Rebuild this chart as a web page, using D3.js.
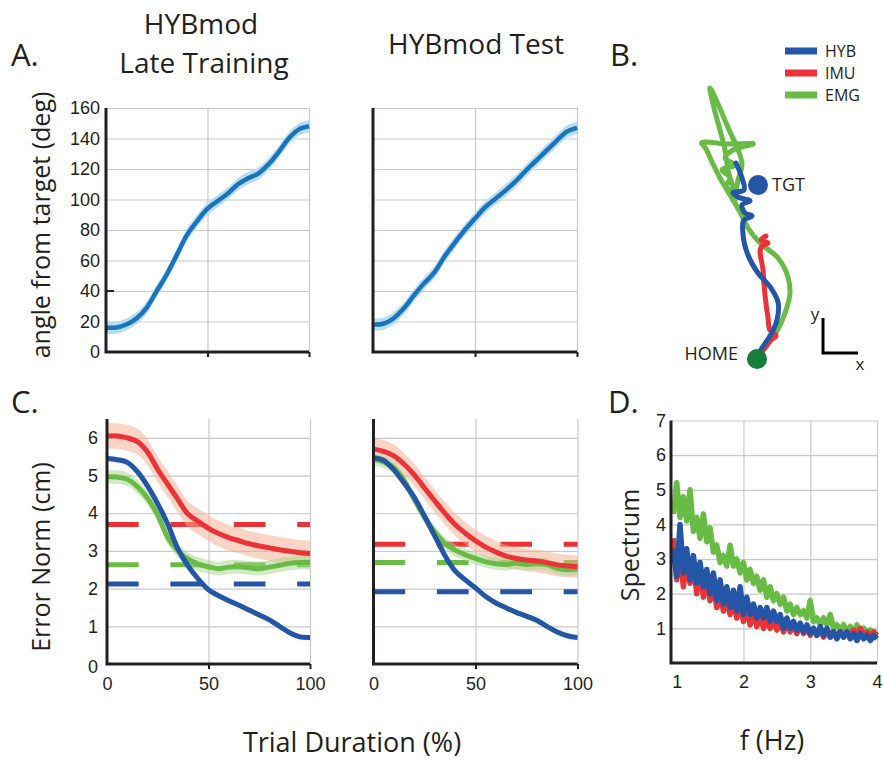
<!DOCTYPE html>
<html lang="en">
<head>
<meta charset="UTF-8">
<title>HYBmod figure</title>
<script src="https://d3js.org/d3.v7.min.js"></script>
<style>
  body { margin: 0; background: #ffffff; }
  svg { display: block; font-family: 'Open Sans', 'Noto Sans', sans-serif; color: #231f20; }
  text { fill: #231f20; }
  .grid line { stroke: #c9c9c9; stroke-width: 1.2; }
  .axis-line { stroke: #231f20; stroke-width: 3; fill: none; }
  .ticklab text { font-size: 18px; }
</style>
</head>
<body>
<svg id="fig" width="883" height="762"></svg>
<script>
// ---------- data ----------
const pct = [0,5,10,15,20,25,30,35,40,45,50,55,60,65,70,75,80,85,90,95,100];

// panel A: angle from target (deg)
const angleTrain = [16,16,18,22,29,40,51,64,77,86,94,99,104,110,114,117,123,131,140,146,148];
const angleTest  = [18,18.5,22,28.5,37,45,52,62.5,71.5,80,87.5,95,100.5,106,112,119,125.5,132,138.5,144.5,147];
const angleBand = 4;

// panel C: error norm (cm)
const methods = ["HYB", "IMU", "EMG"];
const errTrainHYB = [5.45,5.42,5.35,5.1,4.72,4.25,3.7,3.05,2.6,2.25,1.97,1.81,1.68,1.56,1.43,1.3,1.17,1.0,0.83,0.72,0.7];
const errTrainIMU = [6.05,6.05,6.0,5.9,5.62,5.16,4.76,4.36,3.97,3.78,3.6,3.46,3.35,3.27,3.19,3.13,3.08,3.03,2.99,2.95,2.93];
const errTrainEMG = [4.97,4.96,4.9,4.7,4.4,3.95,3.35,3.0,2.78,2.65,2.58,2.53,2.57,2.58,2.55,2.53,2.57,2.62,2.67,2.69,2.69];
const errTestHYB  = [5.47,5.4,5.15,4.8,4.42,3.92,3.4,2.88,2.47,2.23,2.02,1.79,1.62,1.49,1.37,1.27,1.16,1.0,0.85,0.75,0.7];
const errTestIMU  = [5.7,5.64,5.52,5.3,5.02,4.67,4.33,4.0,3.7,3.47,3.27,3.1,2.97,2.86,2.8,2.76,2.73,2.69,2.63,2.6,2.58];
const errTestEMG  = [5.43,5.36,5.2,4.87,4.37,3.9,3.5,3.2,3.02,2.9,2.8,2.71,2.66,2.64,2.68,2.64,2.66,2.64,2.54,2.5,2.52];
const errBandTrain = [0.07, 0.34, 0.18];
const errBandTest  = [0.07, 0.3, 0.16];
const baseTrain = [2.12, 3.7, 2.63];   // dashed reference levels
const baseTest  = [1.92, 3.18, 2.69];

// panel D: spectrum, sampled every 0.05 Hz from 0.95 to 4.00
const freq = d3.range(95, 401, 5).map(d => d / 100);
const specEMG = [4.3,5.2,4.2,4.8,4.1,5.0,3.8,4.2,3.6,4.3,3.5,3.9,3.2,3.4,2.9,3.1,2.8,3.4,2.8,3.0,2.6,2.9,2.4,2.7,2.3,2.5,2.1,2.4,1.9,2.2,1.8,2.0,1.7,1.9,1.5,1.7,1.4,1.6,1.4,1.5,1.3,1.8,1.2,1.3,1.1,1.3,1.1,1.4,1.0,1.1,0.95,1.1,0.9,1.05,0.9,1.1,0.9,1.0,0.85,0.95,0.85,0.9];
const specIMU = [3.6,2.4,3.3,2.2,3.0,2.3,2.9,2.0,2.8,1.9,2.5,1.8,2.3,1.6,2.1,1.5,1.9,1.4,1.8,1.3,1.7,1.2,1.6,1.1,1.5,1.05,1.4,1.0,1.3,1.0,1.3,0.95,1.2,0.9,1.15,0.9,1.1,0.85,1.1,0.85,1.0,0.8,1.0,0.8,0.95,0.75,0.95,0.75,0.9,0.75,0.9,0.75,0.9,0.8,0.95,0.8,1.0,0.8,0.9,0.8,0.9,0.8];
const specHYB = [3.3,2.5,4.0,2.6,3.3,2.4,3.1,2.3,2.9,2.2,2.7,2.0,2.6,1.8,2.4,1.7,2.2,1.6,2.1,1.5,2.2,1.4,1.9,1.4,1.7,1.3,1.6,1.3,1.6,1.2,1.5,1.2,1.4,1.0,1.3,1.0,1.2,0.95,1.15,0.9,1.1,0.85,1.0,0.8,1.05,0.8,1.0,0.75,0.9,0.7,0.9,0.75,0.9,0.7,0.85,0.65,0.85,0.7,0.8,0.65,0.8,0.7];
const specBand = [0.5, 0.15, 0.15];

// panel B: example trajectories (cm, relative to HOME)
const trajEMG = [[0,0.1],[0.8,1.1],[2.0,2.7],[2.8,4.5],[3.3,6.5],[3.1,8.1],[2.1,10.0],[0.3,11.5],[-0.9,13.0],[-1.7,14.6],[-2.7,16.3],[-3.7,18.0],[-4.5,19.6],[-5.3,21.2],[-5.5,21.4],[-2.9,21.4],[-0.4,21.4],[-1.5,21.1],[-2.4,20.8],[-3.2,20.0],[-2.2,19.3],[-3.5,18.8],[-2.7,18.0],[-3.1,17.2],[-2.4,16.6],[-2.9,18.8],[-3.2,20.8],[-3.7,22.8],[-4.3,25.0],[-4.7,27.0],[-3.9,25.4],[-3.3,24.0],[-2.7,22.6],[-2.0,21.1],[-1.5,19.3],[-1.9,17.8],[-2.2,15.8]];
const trajIMU = [[0.2,0.2],[0.8,1.0],[1.4,1.8],[1.9,2.2],[1.3,2.8],[1.1,4.0],[0.8,6.3],[0.6,8.8],[0.5,11.2],[1.1,11.5],[0.4,11.8],[0.9,12.2]];
const trajHYB = [[0,0.1],[0.5,1.0],[1.3,2.2],[2.0,3.8],[2.1,5.6],[1.4,7.0],[0.1,8.5],[-0.9,10.3],[-1.4,12.4],[-1.3,13.8],[-0.5,14.2],[-1.2,14.5],[-1.5,15.3],[-0.7,15.7],[-1.9,16.1],[-2.4,16.5],[-1.3,16.8],[-1.5,18.0],[-2.1,19.5]];
const homePos = [0, -0.1];
const targetPos = [0.1, 17.3];

const colors = { HYB: "#2356a6", IMU: "#ec3237", EMG: "#68bc45" };
const bandColors = { HYB: "#9aa3d6", IMU: "#f6a98c", EMG: "#a6d48e" };

// ---------- drawing ----------
const svg = d3.select("#fig");
const intFmt = d3.format("d");

function makePanel(cfg) {
  const g = svg.append("g");
  const x = d3.scaleLinear().domain(cfg.xDomain).range(cfg.xRange);
  const y = d3.scaleLinear().domain(cfg.yDomain).range(cfg.yRange);
  const h = cfg.yRange[0] - cfg.yRange[1];
  const w = cfg.xRange[1] - cfg.xRange[0];

  g.append("g").attr("class", "grid")
    .attr("transform", `translate(0,${cfg.yRange[0]})`)
    .call(d3.axisBottom(x).tickValues(cfg.xGrid).tickSize(-h).tickFormat(""))
    .call(a => a.select(".domain").remove());
  g.append("g").attr("class", "grid")
    .attr("transform", `translate(${cfg.xRange[0]},0)`)
    .call(d3.axisLeft(y).tickValues(cfg.yGrid).tickSize(-w).tickFormat(""))
    .call(a => a.select(".domain").remove());

  const marks = g.append("g");
  const axes = g.append("g");
  let yLab = null;

  axes.append("path").attr("class", "axis-line")
    .attr("d", `M${cfg.xRange[0]},${cfg.yRange[1]}V${cfg.yRange[0]}H${cfg.xRange[1]}`);

  // small ticks under the x axis
  if (cfg.xTicksOut) {
    axes.append("g").attr("transform", `translate(0,${cfg.yRange[0]})`)
      .call(d3.axisBottom(x).tickValues(cfg.xTicksOut).tickSize(5).tickFormat(""))
      .call(a => a.select(".domain").remove())
      .call(a => a.selectAll("line").attr("stroke", "#231f20").attr("stroke-width", 2));
  }
  if (cfg.yLabels) {
    yLab = axes.append("g").attr("class", "ticklab")
      .attr("transform", `translate(${cfg.xRange[0]},0)`)
      .call(d3.axisLeft(y).tickValues(cfg.yLabels).tickSize(0).tickPadding(cfg.yPad).tickFormat(intFmt))
      .call(a => a.select(".domain").remove());
  }
  if (cfg.xLabels) {
    axes.append("g").attr("class", "ticklab")
      .attr("transform", `translate(0,${cfg.yRange[0]})`)
      .call(d3.axisBottom(x).tickValues(cfg.xLabels).tickSize(0).tickPadding(cfg.xPad).tickFormat(intFmt))
      .call(a => a.select(".domain").remove());
  }
  return { g, x, y, marks, axes, yLab };
}

function drawBand(p, xs, ys, half, fill, op, curve) {
  const area = d3.area()
    .x((d, i) => p.x(xs[i]))
    .y0(d => p.y(d - half))
    .y1(d => p.y(d + half))
    .curve(curve);
  p.marks.append("path").attr("d", area(ys)).attr("fill", fill).attr("opacity", op);
}
function drawLine(p, xs, ys, color, width, curve) {
  const line = d3.line().x((d, i) => p.x(xs[i])).y(d => p.y(d)).curve(curve);
  p.marks.append("path").attr("d", line(ys)).attr("fill", "none")
    .attr("stroke", color).attr("stroke-width", width)
    .attr("stroke-linejoin", "round").attr("stroke-linecap", "butt");
}

// --- panel A ---
const aCfg = { xDomain: [0, 100], yDomain: [0, 160], yRange: [352, 108],
  xGrid: [50, 100], yGrid: [20, 40, 60, 80, 100, 120, 140, 160], xTicksOut: [50, 100] };
const pA1 = makePanel({ ...aCfg, xRange: [106, 309], yLabels: [0,20,40,60,80,100,120,140,160], yPad: 6 });
const pA2 = makePanel({ ...aCfg, xRange: [373, 577] });
// odd little tick at 40 on the left panel
pA1.axes.append("line").attr("x1", 106).attr("x2", 114)
  .attr("y1", pA1.y(40)).attr("y2", pA1.y(40)).attr("stroke", "#231f20").attr("stroke-width", 2);

[[pA1, angleTrain], [pA2, angleTest]].forEach(([p, ys]) => {
  drawBand(p, pct, ys, angleBand, "#b3dcf2", 0.95, d3.curveCatmullRom);
  drawLine(p, pct, ys, "#1b74bb", 4.5, d3.curveCatmullRom);
});

// --- panel C ---
const cCfg = { xDomain: [0, 100], yDomain: [0, 6.5], yRange: [664, 419],
  xGrid: [50, 100], yGrid: [1, 2, 3, 4, 5, 6], xTicksOut: [50, 100], xLabels: [0, 50, 100], xPad: 13 };
const pC1 = makePanel({ ...cCfg, xRange: [107, 310], yLabels: [0, 1, 2, 3, 4, 5, 6], yPad: 9 });
const pC2 = makePanel({ ...cCfg, xRange: [373.5, 577.5] });
// the y "0" sits a little low, next to the x "0"
pC1.yLab.selectAll(".tick text").filter(d => d === 0).attr("dy", "0.45em");

function drawErr(p, series, bands, bases) {
  methods.forEach((m, i) => {
    p.marks.append("line")
      .attr("x1", p.x(0)).attr("x2", p.x(100))
      .attr("y1", p.y(bases[i])).attr("y2", p.y(bases[i]))
      .attr("stroke", colors[m]).attr("stroke-width", 5)
      .attr("stroke-dasharray", "31.7,31.7");
  });
  methods.forEach((m, i) => drawBand(p, pct, series[i], bands[i], bandColors[m], 0.5, d3.curveCatmullRom));
  // draw order: EMG, IMU, HYB on top
  [2, 1, 0].forEach(i => drawLine(p, pct, series[i], colors[methods[i]], 5, d3.curveCatmullRom));
}
drawErr(pC1, [errTrainHYB, errTrainIMU, errTrainEMG], errBandTrain, baseTrain);
drawErr(pC2, [errTestHYB, errTestIMU, errTestEMG], errBandTest, baseTest);

// --- panel D ---
const pD = makePanel({ xDomain: [0.915, 4], yDomain: [0, 7], xRange: [671, 877], yRange: [663, 420.5],
  xGrid: [2, 3, 4], yGrid: [1, 2, 3, 4, 5, 6, 7], yLabels: [1, 2, 3, 4, 5, 6, 7], yPad: 5,
  xLabels: [1, 2, 3, 4], xPad: 12 });
const specSeries = [specHYB, specIMU, specEMG];
drawBand(pD, freq, specEMG, specBand[2], bandColors.EMG, 0.45, d3.curveLinear);
[2, 1, 0].forEach(i => drawLine(pD, freq, specSeries[i], colors[methods[i]], 5.5, d3.curveLinear));

// --- panel B ---
const bx = d3.scaleLinear().domain([0, 1]).range([757, 767]);
const by = d3.scaleLinear().domain([0, 1]).range([358, 348]);
const gB = svg.append("g");
const trajLine = d3.line().x(d => bx(d[0])).y(d => by(d[1])).curve(d3.curveCatmullRom.alpha(0.9));
[["EMG", trajEMG], ["IMU", trajIMU], ["HYB", trajHYB]].forEach(([m, pts]) => {
  gB.append("path").attr("d", trajLine(pts)).attr("fill", "none")
    .attr("stroke", colors[m]).attr("stroke-width", 5)
    .attr("stroke-linecap", "round").attr("stroke-linejoin", "round");
});
gB.append("circle").attr("cx", bx(targetPos[0])).attr("cy", by(targetPos[1])).attr("r", 10).attr("fill", colors.HYB);
gB.append("circle").attr("cx", bx(homePos[0])).attr("cy", by(homePos[1])).attr("r", 10).attr("fill", "#157f3b");
gB.append("text").attr("x", 772).attr("y", 191).attr("font-size", 18).text("TGT");
gB.append("text").attr("x", 738).attr("y", 360).attr("font-size", 18).attr("text-anchor", "end").text("HOME");

// scale bar
gB.append("path").attr("d", "M823,318V353H858").attr("fill", "none").attr("stroke", "#000").attr("stroke-width", 3);
gB.append("text").attr("x", 815).attr("y", 320).attr("font-size", 17).attr("text-anchor", "middle").text("y");
gB.append("text").attr("x", 860).attr("y", 370).attr("font-size", 17).attr("text-anchor", "middle").text("x");

// legend
const legY = [51, 73, 95];
methods.forEach((m, i) => {
  gB.append("line").attr("x1", 785).attr("x2", 817).attr("y1", legY[i]).attr("y2", legY[i])
    .attr("stroke", colors[m]).attr("stroke-width", 7);
  gB.append("text").attr("x", 825).attr("y", legY[i] + 6).attr("font-size", 16).text(m);
});

// ---------- text ----------
function label(x, y, txt, size, anchor, rot) {
  const t = svg.append("text").attr("font-size", size).attr("text-anchor", anchor || "start").text(txt);
  if (rot) t.attr("transform", `translate(${x},${y}) rotate(${rot})`);
  else t.attr("x", x).attr("y", y);
  return t;
}
label(11, 66, "A.", 31);
label(610, 66, "B.", 31);
label(11, 413, "C.", 31);
label(608, 413, "D.", 31);
label(201, 34, "HYBmod", 28, "middle");
label(204, 73, "Late Training", 28, "middle");
label(476, 54, "HYBmod Test", 28, "middle");
label(50, 225, "angle from target (deg)", 25, "middle", -90);
label(50, 557, "Error Norm (cm)", 25, "middle", -90);
label(639, 545, "Spectrum", 25, "middle", -90);
label(352, 752, "Trial Duration (%)", 27, "middle");
label(772, 750, "f (Hz)", 27, "middle");
</script>
</body>
</html>
